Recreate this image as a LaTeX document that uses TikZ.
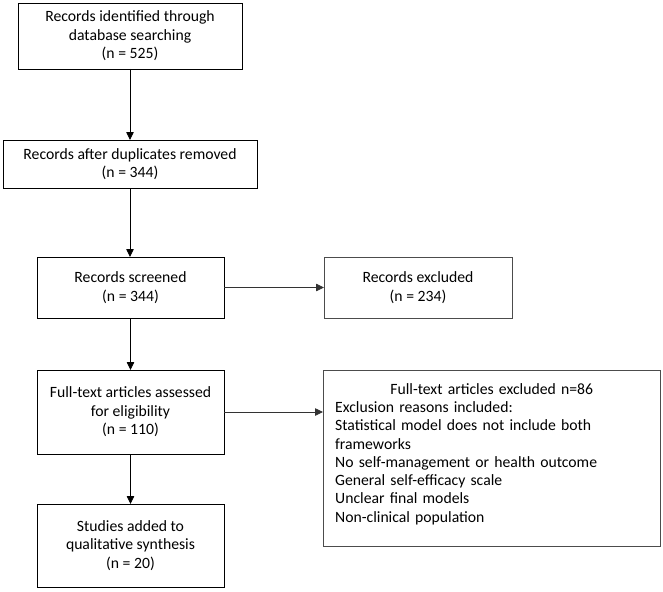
\documentclass[tikz,border=0pt]{standalone}
\usepackage{fontspec}
\setmainfont{Carlito}
\usetikzlibrary{arrows.meta}
\tikzset{
  box/.style={draw=black, line width=0.9pt, inner sep=0pt, outer sep=0pt, align=center,
    font=\fontsize{15.7}{18.6}\selectfont},
  sidebox/.style={box, draw=black!70},
  flow/.style={line width=0.8pt, -{Triangle[length=8pt,width=7.5pt]}},
  sideflow/.style={flow, draw=black!80, fill=black},
}
\begin{document}
\begin{tikzpicture}[x=1pt,y=-1pt]
\useasboundingbox[fill=white] (0,0) rectangle (663,591);
\node[box, minimum width=224pt, minimum height=66pt] (b1) at (130,36)
  {Records identified through\\database searching\\(n = 525)};
\node[box, minimum width=254pt, minimum height=48pt] (b2) at (130,164)
  {Records after duplicates removed\\(n = 344)};
\node[box, minimum width=187pt, minimum height=61pt] (b3) at (130.5,287.5)
  {Records screened\\(n = 344)};
\node[sidebox, minimum width=188pt, minimum height=61pt] (b4) at (418,287.5)
  {Records excluded\\(n = 234)};
\node[box, minimum width=187pt, minimum height=84pt] (b5) at (130.5,412)
  {Full-text articles assessed\\for eligibility\\(n = 110)};
\node[sidebox, minimum width=337pt, minimum height=176pt] (b6) at (491.5,458) {};
\node[anchor=north west, inner sep=0pt, align=left, text width=318pt,
  font=\fontsize{15.7}{18.3}\selectfont] (b6text) at (335,383)
  {\makebox[313pt]{Full-text articles excluded n=86}\\
   Exclusion reasons included:\\
   Statistical model does not include both\\
   frameworks\\
   No self-management or health outcome\\
   General self-efficacy scale\\
   Unclear final models\\
   Non-clinical population};
\node[box, minimum width=187pt, minimum height=83pt] (b7) at (130.5,545.5)
  {Studies added to\\qualitative synthesis\\(n = 20)};
\draw[flow] (b1) -- (b2);
\draw[flow] (b2.south) -- (b2.south |- b3.north);
\draw[flow] (b3) -- (b5);
\draw[flow] (b5) -- (b7);
\draw[sideflow] (b3.east) -- (b3.east -| b4.west);
\draw[sideflow] (b5.east) -- (b5.east -| b6.west);
\end{tikzpicture}
\end{document}
